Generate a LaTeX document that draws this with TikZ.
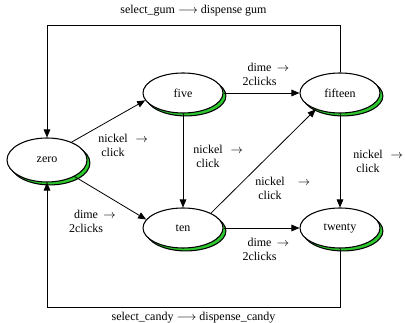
\documentclass[tikz,border=0pt]{standalone}
\usepackage{fontspec}
\setmainfont{Liberation Serif}
\usetikzlibrary{shapes.geometric,shadows,arrows.meta}

\definecolor{stgreen}{RGB}{45,200,45}

\begin{document}
\begin{tikzpicture}[x=0.75pt, y=-0.75pt,
    font=\fontsize{9}{10.5}\selectfont,
    state/.style={ellipse, draw, thick, fill=white, inner sep=0pt,
        minimum width=60pt, minimum height=30pt,
        general shadow={shadow xshift=2.2pt, shadow yshift=-2.2pt, fill=stgreen, draw=black}},
    lbl/.style={align=center, inner sep=0pt},
    arr/.style={-{Triangle[length=6pt, width=5pt]}, semithick}]
    \useasboundingbox (0,0) rectangle (405,323);

    \node[state, minimum height=33pt] (zero) at (47,160) {zero};
    \node[state] (five) at (183,93) {five};
    \node[state] (fifteen) at (340,93) {fifteen};
    \node[state] (ten) at (183,228) {ten};
    \node[state] (twenty) at (340,228) {twenty};

    \coordinate (topline) at (0,25);
    \coordinate (botline) at (0,307);

    \draw[arr] (zero.36) -- (five.191);
    \draw[arr] (zero.329) -- (ten.167);
    \draw[arr] (five) -- (fifteen);
    \draw[arr] (five) -- (ten);
    \draw[arr] (ten.28) -- (fifteen.214);
    \draw[arr] (ten) -- (twenty);
    \draw[arr] (fifteen) -- (twenty);
    \draw[arr] (fifteen.north) -- (fifteen.north |- topline)
        -- node[above=3pt] (gumlbl) {select\_gum $\longrightarrow$ dispense gum}
        (zero.north |- topline) -- (zero.north);
    \draw[arr] (twenty.south) -- (twenty.south |- botline)
        -- node[below] (candylbl) {select\_candy $\longrightarrow$ dispense\_candy}
        (zero.south |- botline) -- (zero.south);

    \node[lbl] (nz5) at (113,145) {nickel\rlap{\hspace{6pt}$\rightarrow$}\\click};
    \node[lbl] (dz10) at (86,221.5) {dime\rlap{\hspace{4pt}$\rightarrow$}\\2clicks};
    \node[lbl] (n510) at (208,156.5) {nickel\rlap{\hspace{6pt}$\rightarrow$}\\click};
    \node[lbl] (d515) at (259.5,74.5) {dime\rlap{\hspace{4pt}$\rightarrow$}\\2clicks};
    \node[lbl] (n1015) at (270,188) {nickel\rlap{\hspace{10pt}$\rightarrow$}\\click};
    \node[lbl] (n1520) at (368,161) {nickel\rlap{\hspace{6pt}$\rightarrow$}\\click};
    \node[lbl] (d1020) at (259.5,249.5) {dime\rlap{\hspace{4pt}$\rightarrow$}\\2clicks};
\end{tikzpicture}
\end{document}
